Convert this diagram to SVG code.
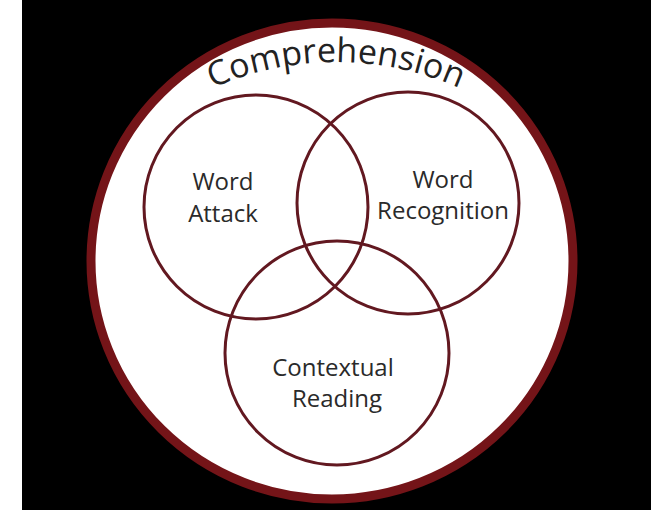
<svg xmlns="http://www.w3.org/2000/svg" xmlns:xlink="http://www.w3.org/1999/xlink" width="672" height="510" viewBox="0 0 672 510">
  <style>
    .ring { fill: none; stroke: #621820; stroke-width: 3; }
    .lbl { font-family: "Open Sans", "Liberation Sans", sans-serif; font-size: 24px; fill: #2a2a2a; text-anchor: middle; }
    .title { font-family: "Open Sans", "Liberation Sans", sans-serif; font-size: 34px; fill: #222; }
  </style>
  <defs>
    <path id="titleArc" d="M 31,367 A 305 305 0 0 1 641,367"/>
  </defs>
  <rect x="0" y="0" width="672" height="510" fill="#ffffff"/>
  <rect x="22" y="0" width="629" height="510" fill="#000000"/>
  <g id="comprehension">
    <ellipse cx="332" cy="261" rx="241" ry="238" fill="#ffffff" stroke="#741418" stroke-width="9"/>
    <text class="title"><textPath xlink:href="#titleArc" startOffset="50%" text-anchor="middle">Comprehension</textPath></text>
  </g>
  <g id="word-attack">
    <circle class="ring" cx="256" cy="207" r="112"/>
    <text class="lbl" x="223" y="190">Word</text>
    <text class="lbl" x="223" y="222">Attack</text>
  </g>
  <g id="word-recognition">
    <circle class="ring" cx="408" cy="203" r="111"/>
    <text class="lbl" x="443" y="188">Word</text>
    <text class="lbl" x="443" y="219">Recognition</text>
  </g>
  <g id="contextual-reading">
    <circle class="ring" cx="337" cy="353" r="112"/>
    <text class="lbl" x="333" y="376">Contextual</text>
    <text class="lbl" x="337" y="407">Reading</text>
  </g>
  <g id="connectors"/>
</svg>
